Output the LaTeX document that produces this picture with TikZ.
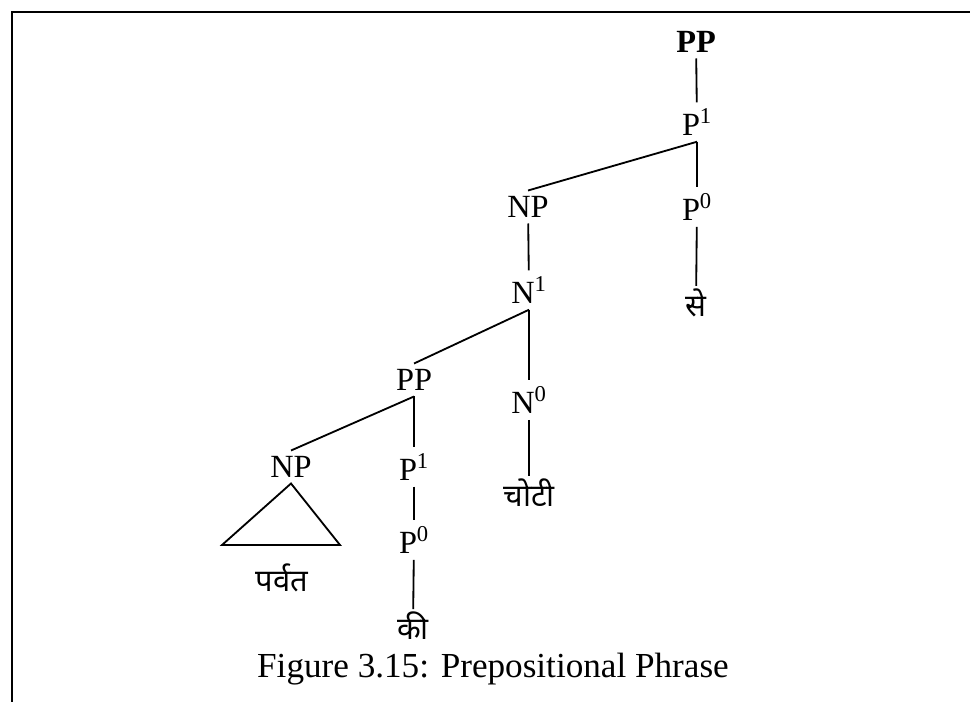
\documentclass[tikz,border=0pt]{standalone}
\usepackage{fontspec}
\setmainfont{Liberation Serif}
\newfontfamily\deva[Script=Devanagari]{Noto Sans}
\tikzstyle{phrase} = [inner sep=4pt, font=\fontsize{23}{27}\selectfont]
\tikzstyle{leaf}   = [inner sep=2pt, font=\fontsize{22}{26}\selectfont\deva]
\tikzstyle{branch} = [line width=1.3pt]
\tikzstyle{frame}  = [line width=2pt]

\begin{document}
\begin{tikzpicture}[x=0.025cm, y=-0.025cm]
  \useasboundingbox (0,0) rectangle (970,702);
  \draw [frame] (970,12) -- (12,12) -- (12,702);

  % upper PP
  \node (pp0)   [phrase, font=\fontsize{23}{27}\selectfont\bfseries] at (696,42) {PP};
  \node (p1a)   [phrase] at (697,122) {P\textsuperscript{1}};
  \node (np1)   [phrase] at (528,207) {NP};
  \node (p0a)   [phrase] at (697,207) {P\textsuperscript{0}};
  \node (se)    [leaf]   at (696,303) {से};

  % NP head
  \node (n1)    [phrase] at (529,290) {N\textsuperscript{1}};
  \node (pp2)   [phrase] at (414,380) {PP};
  \node (n0)    [phrase] at (529,400) {N\textsuperscript{0}};
  \node (choti) [leaf]   at (529,493) {चोटी};

  % lower PP
  \node (np2)   [phrase] at (291,467) {NP};
  \node (p1b)   [phrase] at (414,467) {P\textsuperscript{1}};
  \node (p0b)   [phrase] at (414,540) {P\textsuperscript{0}};
  \node (ki)    [leaf]   at (413,626) {की};
  \coordinate (triL) at (222,545);
  \coordinate (triR) at (340,545);
  \node (parvat) [leaf] at (282,578) {पर्वत};

  \node (caption) [phrase, inner sep=1pt, font=\fontsize{25}{29}\selectfont] at (493,669) {Figure 3.15: Prepositional Phrase};

  \draw [branch] (pp0) -- (p1a);
  \draw [branch] (p1a.south) -- (np1.north);
  \draw [branch] (p1a) -- (p0a);
  \draw [branch] (p0a) -- (se);
  \draw [branch] (np1) -- (n1);
  \draw [branch] (n1.south) -- (pp2.north);
  \draw [branch] (n1) -- (n0);
  \draw [branch] (n0) -- (choti);
  \draw [branch] (pp2.south) -- (np2.north);
  \draw [branch] (pp2) -- (p1b);
  \draw [branch] (p1b) -- (p0b);
  \draw [branch] (p0b) -- (ki);
  \draw [branch] (np2.south) -- (triL) -- (triR) -- cycle;
\end{tikzpicture}
\end{document}
